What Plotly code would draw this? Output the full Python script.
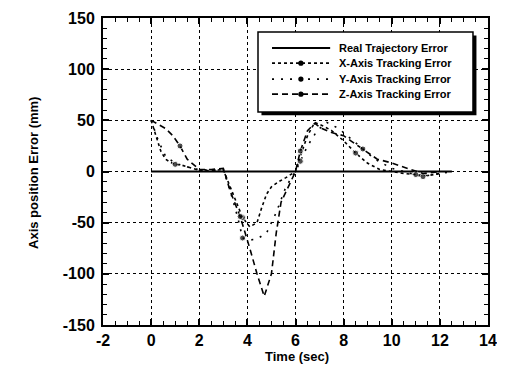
import plotly.graph_objects as go

# ---- data ----
real_t = [0, 12.5]
real_e = [0, 0]

x_t = [0, 0.2, 0.4, 0.6, 0.8, 1.0, 1.3, 1.6, 2.0, 2.5, 3.0, 3.2, 3.5, 3.8, 4.1, 4.4, 4.6,
       4.8, 5.0, 5.3, 5.6, 6.0, 6.2, 6.5, 6.8, 7.1, 7.5, 8.0, 8.5, 9.0, 9.5, 10.0, 10.5,
       11.0, 11.5, 12.0]
x_e = [50, 35, 20, 12, 9, 7, 6, 4, 1, 1, 2, -10, -28, -45, -54, -50, -35,
       -22, -15, -10, -6, 0, 15, 35, 48, 45, 40, 30, 18, 8, 2, 0, -2,
       -3, -4, -2]
x_marks = [1.0, 3.8, 8.5, 11.0]

y_t = [0, 0.3, 0.6, 1.0, 1.3, 1.7, 2.0, 2.5, 3.0, 3.3, 3.6, 3.8, 4.1, 4.4, 4.8, 5.2,
       5.6, 6.0, 6.2, 6.5, 6.9, 7.3, 7.8, 8.3, 8.8, 9.3, 10.0, 10.5, 11.0, 11.3, 11.7, 12.3]
y_e = [50, 30, 15, 8, 6, 3, 2, 1, 2, -20, -45, -65, -67, -66, -60, -40,
       -15, 0, 10, 25, 40, 48, 42, 32, 22, 12, 3, 0, -3, -5, -3, -1]
y_marks = [3.8, 6.2, 11.3]

z_t = [0, 0.3, 0.6, 0.9, 1.2, 1.5, 2.0, 2.5, 3.0, 3.3, 3.7, 4.1, 4.4, 4.7, 5.0, 5.2,
       5.4, 5.8, 6.0, 6.2, 6.5, 6.8, 7.1, 7.5, 8.0, 8.3, 8.8, 9.4, 9.9, 10.4, 11.0,
       11.3, 12.0]
z_e = [50, 46, 42, 35, 25, 12, 2, 2, 3, -20, -44, -75, -100, -122, -100, -60,
       -30, -10, 0, 20, 40, 47, 42, 38, 35, 30, 22, 12, 9, 5, 0,
       -2, 0]
z_marks = [1.2, 3.7, 6.2, 8.8]

x_tickvals = [-2, 0, 2, 4, 6, 8, 10, 12, 14]
x_ticktext = ["-2", "0", "2", "4", "6", "8", "10", "12", "14"]
y_tickvals = [-150, -100, -50, 0, 50, 100, 150]
y_ticktext = ["-150", "-100", "-50", "0", "50", "100", "150"]

series = [
    ("Real Trajectory Error", real_t, real_e, "solid", [], 2.0),
    ("X-Axis Tracking Error", x_t, x_e, "dot", x_marks, 1.6),
    ("Y-Axis Tracking Error", y_t, y_e, "2px,7px", y_marks, 1.6),
    ("Z-Axis Tracking Error", z_t, z_e, "6px,4px", z_marks, 1.6),
]

fig = go.Figure()
for name, t, e, dash, marks, lw in series:
    sizes = [6 if v in marks else 0 for v in t]
    fig.add_trace(go.Scatter(
        x=t, y=e, name=name, showlegend=False,
        mode="lines+markers" if marks else "lines",
        line=dict(color="black", width=lw, dash=dash),
        marker=dict(color="black", size=sizes),
    ))

font = "Liberation Sans, Arial, sans-serif"
axis_common = dict(
    showline=True, linecolor="black", linewidth=2, mirror="allticks",
    ticks="inside", ticklen=6, tickwidth=1.5, tickcolor="black",
    showgrid=True, gridcolor="black", griddash="dot", gridwidth=1,
    zeroline=False, automargin=False, ticklabeloverflow="allow",
    tickfont=dict(family=font, size=16, color="black", weight="bold"),
)

fig.update_xaxes(
    range=[-2, 14], tickvals=x_tickvals, ticktext=x_ticktext,
    minor=dict(dtick=0.5, tick0=0, ticks="inside", ticklen=4, tickwidth=1.2,
               tickcolor="black", showgrid=False),
    ticklabelstandoff=0,
    **axis_common,
)
fig.update_yaxes(
    range=[-150, 150], tickvals=y_tickvals, ticktext=y_ticktext,
    minor=dict(dtick=10, tick0=0, ticks="inside", ticklen=4, tickwidth=1.2,
               tickcolor="black", showgrid=False),
    ticklabelstandoff=3,
    **axis_common,
)

title_font = dict(family=font, size=13, color="black", weight="bold")
fig.add_annotation(text="Time (sec)", xref="paper", yref="paper", x=0.504, y=-0.104,
                   showarrow=False, font=title_font, xanchor="center", yanchor="middle")
fig.add_annotation(text="Axis position Error (mm)", xref="paper", yref="paper",
                   x=-0.182, y=0.495, textangle=-90, showarrow=False, font=title_font,
                   xanchor="center", yanchor="middle")

# ---- hand-drawn legend box (with drop shadow) ----
bx0, bx1, by0, by1 = 0.4026, 0.961, 0.694, 0.954
fig.add_shape(type="rect", xref="paper", yref="paper",
              x0=bx0 + 0.009, x1=bx1 + 0.009, y0=by0 - 0.011, y1=by1 - 0.011,
              fillcolor="black", line=dict(width=0), layer="above")
fig.add_shape(type="rect", xref="paper", yref="paper",
              x0=bx0, x1=bx1, y0=by0, y1=by1,
              fillcolor="white", line=dict(color="black", width=1.5), layer="above")
row_y = [0.902, 0.853, 0.801, 0.752]
lx0, lx1, lmx, tx = 0.439, 0.590, 0.514, 0.608
for (name, t, e, dash, marks, lw), ry in zip(series, row_y):
    fig.add_shape(type="line", xref="paper", yref="paper", x0=lx0, x1=lx1, y0=ry, y1=ry,
                  line=dict(color="black", width=lw, dash=dash), layer="above")
    if marks:
        fig.add_shape(type="circle", xref="paper", yref="paper",
                      x0=lmx - 0.0068, x1=lmx + 0.0068, y0=ry - 0.0085, y1=ry + 0.0085,
                      fillcolor="black", line=dict(width=0), layer="above")
    fig.add_annotation(text=name, xref="paper", yref="paper", x=tx, y=ry,
                       xanchor="left", yanchor="middle", showarrow=False,
                       font=dict(family=font, size=11, color="black", weight="bold"))

# page body adds an 8px margin, so the figure is sized to sit at the reference position
fig.update_layout(
    width=489, height=360,
    margin=dict(l=95, r=9, t=10, b=43),
    paper_bgcolor="white", plot_bgcolor="white",
    showlegend=False,
)

fig.write_html("out.html")
